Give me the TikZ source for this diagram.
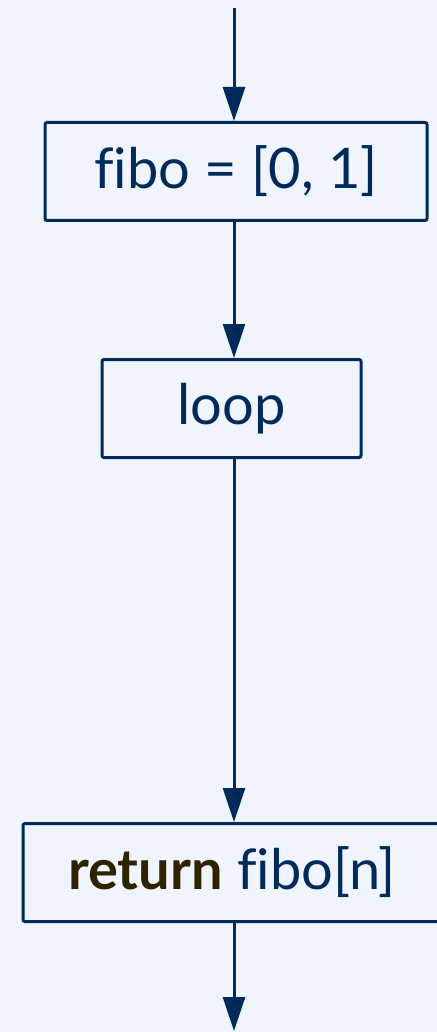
\documentclass[tikz,border=0pt]{standalone}
\usepackage{fontspec}
\setmainfont{Lato}[Ligatures=NoCommon]
\usetikzlibrary{arrows.meta}
\definecolor{navy}{HTML}{002A5A}
\definecolor{bgblue}{HTML}{F0F5FD}
\definecolor{kwbrown}{HTML}{2E2200}

\begin{document}
\begin{tikzpicture}
          [x=0.5pt,y=-0.5pt,
          font=\fontsize{28}{33}\selectfont,
          box/.style={shape=rectangle,draw=navy,text=navy,line width=1.5pt,rounded corners=1pt,inner sep=0pt,minimum height=49pt},
          arc/.style={-{Triangle[length=17pt,width=11pt]},draw=navy,line width=1.5pt}]

            \fill[bgblue] (0,0) rectangle (437,1032);
            \clip (0,0) rectangle (437,1032);

            \coordinate (start) at (234,8);
            \node (init) [box,minimum width=191pt] at (236,171.5) {fibo = [0, 1]};
            \node (loop) [box,minimum width=129.5pt] at (231.5,408.5) {loop};
            \node (ret) [box,minimum width=209pt] at (232,872.5) {\textcolor{kwbrown}{\textbf{return}} fibo[n]};
            \coordinate (stop) at (234,1031);

          \draw [arc] (start) -- (init.north -| start);
          \draw [arc] (init.south -| start) -- (loop.north -| start);
          \draw [arc] (loop.south -| start) -- (ret.north -| start);
          \draw [arc] (ret.south -| start) -- (stop);

        \end{tikzpicture}
\end{document}
